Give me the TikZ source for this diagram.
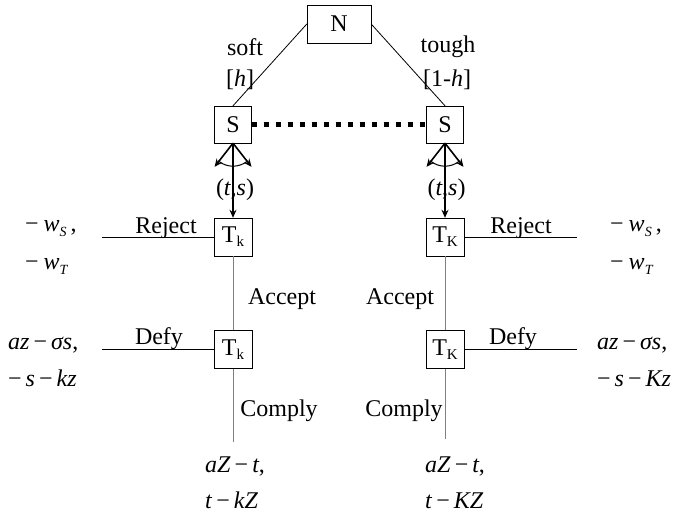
\documentclass[tikz,border=0pt]{standalone}
\usepackage{fontspec}
\setmainfont{Liberation Serif}
\usetikzlibrary{arrows.meta}

% small lowered subscripts (upright and italic)
\newcommand{\lowsub}[1]{\raisebox{-4pt}{\fontsize{15}{15}\selectfont #1}}
\newcommand{\itsub}[1]{\raisebox{-5pt}{\fontsize{14}{14}\selectfont\itshape #1}}
\newcommand{\mvar}[1]{\textit{#1}}
\newcommand{\opgap}{\hspace{4pt}}

\tikzset{
  player/.style={draw, thin, inner sep=0pt, minimum width=37pt, minimum height=37pt},
  edge/.style={draw, line width=0.8pt},
  grayedge/.style={draw, line width=1pt, gray},
  move/.style={line width=1.6pt, -{Stealth[length=8pt,width=7pt]}},
  info/.style={line width=5.5pt, dash pattern=on 5.5pt off 6.5pt},
  lbl/.style={inner sep=0pt, anchor=base},
  pay/.style={inner sep=0pt, anchor=base west},
}

\begin{document}
\begin{tikzpicture}[x=1pt, y=-1pt, font=\fontsize{24}{28}\selectfont]
\useasboundingbox (0,0) rectangle (674,516);

% nature and the two sender nodes
\node[player, minimum width=64pt, minimum height=38pt] (N) at (339,24) {N};
\node[player] (S1) at (233,124.5) {S};
\node[player] (S2) at (445,124.5) {S};

\draw[edge] (N.west) -- (S1.north);
\draw[edge] (N.east) -- (S2.north);
\node at (245,47) {soft};
\node at (240,80) {[\mvar{h}]};
\node at (448,47) {tough};
\node at (447,80) {[1-\mvar{h}]};

% information set
\draw[info] (S1.east) -- (S2.west);

% target nodes
\node[player, minimum width=38pt, minimum height=38pt] (T1) at (233,237) {T\lowsub{k}};
\node[player, minimum width=38pt, minimum height=38pt] (T2) at (445,237) {T\lowsub{K}};
\node[player, minimum width=38pt, minimum height=38pt] (T3) at (233,349.5) {T\lowsub{k}};
\node[player, minimum width=38pt, minimum height=38pt] (T4) at (445,349.5) {T\lowsub{K}};

% sender's continuum of offers
\node at (235,190) {(\mvar{t},\mvar{s})};
\node at (446.5,190) {(\mvar{t},\mvar{s})};
\draw[move] (S1.south) -- (T1.north);
\draw[move] (S2.south) -- (T2.north);
\foreach \s in {S1,S2}{
  \draw[move] (\s.south) -- ++(128:30);
  \draw[move] (\s.south) -- ++(52:30);
  \draw[line width=1pt] (\s.south) ++(130:23) arc[start angle=130, end angle=50, radius=23];
}

% free ends of the terminal branches
\coordinate (RL) at (102,237);
\coordinate (RR) at (577,237);
\coordinate (DL) at (102,349.5);
\coordinate (DR) at (577,349.5);
\coordinate (CL) at (233,442);
\coordinate (CR) at (445,439);

\draw[edge] (T1.west) -- (RL);
\draw[edge] (T2.east) -- (RR);
\draw[edge] (T3.west) -- (DL);
\draw[edge] (T4.east) -- (DR);
\draw[grayedge] (T1.south) -- (T3.north);
\draw[grayedge] (T2.south) -- (T4.north);
\draw[grayedge] (T3.south) -- (CL);
\draw[grayedge] (T4.south) -- (CR);

% branch labels
\node[lbl] at (166,233) {Reject};
\node[lbl] at (521,233) {Reject};
\node[lbl] at (282,304) {Accept};
\node[lbl] at (400,304) {Accept};
\node[lbl] at (159,344) {Defy};
\node[lbl] at (513,344) {Defy};
\node[lbl] at (279,416) {Comply};
\node[lbl] at (404,416) {Comply};

% payoffs
\node[pay] at (25,231) {−\hspace{5pt}\mvar{w}\itsub{S}\hspace{4pt},};
\node[pay] at (25,269) {−\hspace{5pt}\mvar{w}\itsub{T}};
\node[pay] at (610,231) {−\hspace{5pt}\mvar{w}\itsub{S}\hspace{4pt},};
\node[pay] at (610,269) {−\hspace{5pt}\mvar{w}\itsub{T}};

\node[pay] at (8,349) {\mvar{az}\opgap−\opgap\mvar{σs},};
\node[pay] at (8,386) {−\opgap\mvar{s}\opgap−\opgap\mvar{kz}};
\node[pay] at (597,349) {\mvar{az}\opgap−\opgap\mvar{σs},};
\node[pay] at (597,386) {−\opgap\mvar{s}\opgap−\opgap\mvar{Kz}};

\node[pay] at (205,472) {\mvar{aZ}\opgap−\opgap\mvar{t},};
\node[pay] at (205,508) {\mvar{t}\opgap−\opgap\mvar{kZ}};
\node[pay] at (425,472) {\mvar{aZ}\opgap−\opgap\mvar{t},};
\node[pay] at (425,508) {\mvar{t}\opgap−\opgap\mvar{KZ}};
\end{tikzpicture}
\end{document}
